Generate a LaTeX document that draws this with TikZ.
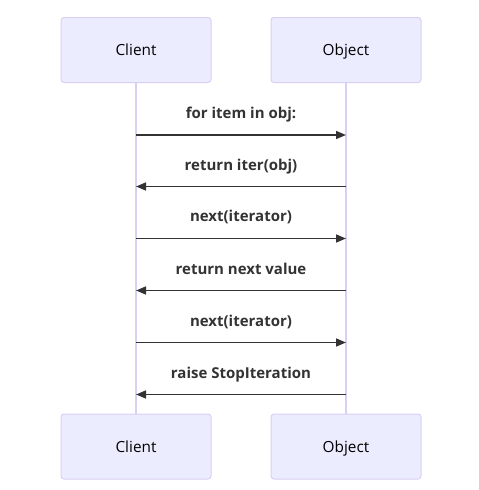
\documentclass[tikz,border=0pt]{standalone}
\usepackage{fontspec}
\setmainfont{Open Sans}
\usetikzlibrary{arrows.meta}
\definecolor{actfill}{HTML}{ECECFF}
\definecolor{actline}{HTML}{DACEF3}
\definecolor{msg}{HTML}{333333}
\tikzset{
  actor/.style={draw=actline, fill=actfill, line width=0.75pt, rounded corners=2.25pt,
    minimum width=112.5pt, minimum height=48.75pt, inner sep=0pt, text height=10pt, text depth=1.3pt,
    font=\fontsize{11.5}{14}\selectfont, text=black},
  lifeline/.style={draw=actline, line width=1.1pt},
  message/.style={draw=msg, line width=1.2pt, -{Triangle[length=7.5pt,width=6pt]}},
  msglabel/.style={font=\bfseries\fontsize{11.25}{14}\selectfont, text=msg, inner sep=0pt, text height=8.6pt, text depth=2.6pt}
}
\begin{document}
\begin{tikzpicture}[x=0.75pt,y=-0.75pt]
\useasboundingbox (0,0) rectangle (479,490);
\node[actor] (ct) at (136,50) {Client};
\node[actor] (ot) at (346,50) {Object};
\node[actor] (cb) at (136,446.5) {Client};
\node[actor] (ob) at (346,446.5) {Object};
\draw[lifeline] (ct.south) -- (cb.north);
\draw[lifeline] (ot.south) -- (ob.north);
\foreach \i/\y in {1/135,2/186.5,3/238.5,4/290.5,5/342.5,6/394.5}{
  \coordinate (c\i) at (ct.south |- 0,\y);
  \coordinate (o\i) at (ot.south |- 0,\y);
}
\draw[message] (c1) -- (o1);
\draw[message] (o2) -- (c2);
\draw[message] (c3) -- (o3);
\draw[message] (o4) -- (c4);
\draw[message] (c5) -- (o5);
\draw[message] (o6) -- (c6);
\node[msglabel] (l1) at (241,114.5) {for item in obj:};
\node[msglabel] (l2) at (241,166.5) {return iter(obj)};
\node[msglabel] (l3) at (241,217.5) {next(iterator)};
\node[msglabel] (l4) at (241,270.5) {return next value};
\node[msglabel] (l5) at (241,322.5) {next(iterator)};
\node[msglabel] (l6) at (241,374.5) {raise StopIteration};
\end{tikzpicture}
\end{document}
